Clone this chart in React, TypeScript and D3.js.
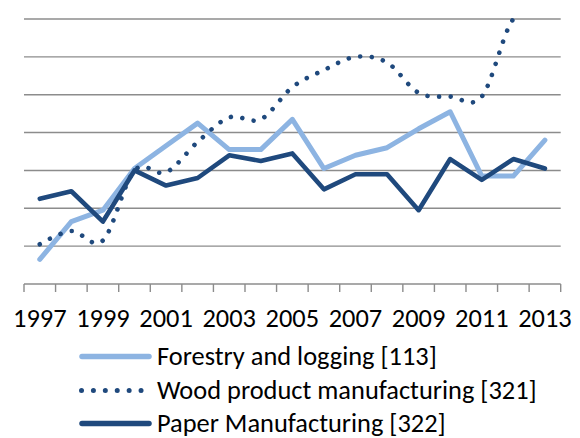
import React from "react";
import * as d3 from "d3";

const years = d3.range(1997, 2014).map(String);
const forestry = [13, 33, 39, 61, 73, 85, 71, 71, 87, 61, 68, 72, 82, 91, 57, 57, 76];
const wood = [21, 28, 23, 60, 59, 75, 88, 87, 104, 113, 120, 117, 101, 99, 99, 140, 142];
const paper = [45, 49, 33, 60, 52, 56, 68, 65, 69, 50, 58, 58, 39, 66, 55, 66, 61];
const gridTicks = [20, 40, 60, 80, 100, 120, 140];
const legendLabels = [
  "Forestry and logging [113]",
  "Wood product manufacturing [321]",
  "Paper Manufacturing [322]",
];

const LIGHT = "#8DB4E2";
const DARK = "#1F497D";
const GRID = "#8c8c8c";
const FONT = "Carlito, Calibri, 'Open Sans', sans-serif";
const FS = 26.4;

export default function App() {
  const W = 580, H = 438;
  const left = 24, right = 560.7, top = 19, bottom = 284;
  const x = d3.scaleBand<string>().domain(years).range([left, right]).padding(0);
  const y = d3.scaleLinear().domain([0, 140]).range([bottom, top]);
  const cx = (i: number) => (x(years[i]) as number) + x.bandwidth() / 2;

  const straight = d3.line<number>().x((_, i) => cx(i)).y((d) => y(d));
  const smooth = d3
    .line<number>()
    .x((_, i) => cx(i))
    .y((d) => y(d))
    .curve(d3.curveCardinal.tension(0));

  const tickXs = years.map((yr) => x(yr) as number).concat([right]);

  return (
    <svg width={W} height={H} style={{ position: "absolute", left: 0, top: 0, background: "#fff" }}>
      <defs>
        <clipPath id="plotClip">
          <rect x={left} y={top - 1} width={right - left} height={bottom - top + 10} />
        </clipPath>
      </defs>
      {gridTicks.map((t) => (
        <line key={t} x1={left} x2={right} y1={y(t)} y2={y(t)} stroke={GRID} strokeWidth={1.4} />
      ))}
      <line x1={left} x2={right} y1={bottom} y2={bottom} stroke={GRID} strokeWidth={1.4} />
      {tickXs.map((tx, i) => (
        <line key={i} x1={tx} x2={tx} y1={bottom} y2={bottom + 8} stroke={GRID} strokeWidth={1.4} />
      ))}
      {years.map((yr, i) =>
        i % 2 === 0 ? (
          <text key={yr} x={cx(i)} y={326.5} textAnchor="middle" fontFamily={FONT} fontSize={FS} fill="#000">
            {yr}
          </text>
        ) : null
      )}
      <g clipPath="url(#plotClip)">
        <path d={straight(forestry) || ""} fill="none" stroke={LIGHT} strokeWidth={5} strokeLinejoin="round" strokeLinecap="round" />
        <path
          d={smooth(wood) || ""}
          fill="none"
          stroke={DARK}
          strokeWidth={4.6}
          strokeLinecap="round"
          strokeDasharray="0.01 11.6"
        />
        <path d={straight(paper) || ""} fill="none" stroke={DARK} strokeWidth={4.6} strokeLinejoin="round" strokeLinecap="round" />
      </g>
      {legendLabels.map((lab, i) => {
        const baseY = [365, 399, 432][i];
        const ly = baseY - 8.5;
        return (
          <g key={lab}>
            {i === 1 ? (
              <line x1={81.5} x2={142} y1={ly} y2={ly} stroke={DARK} strokeWidth={5} strokeLinecap="round" strokeDasharray="0.01 11.9" />
            ) : (
              <line x1={82} x2={149} y1={ly} y2={ly} stroke={i === 0 ? LIGHT : DARK} strokeWidth={5.5} strokeLinecap="round" />
            )}
            <text x={157} y={baseY} fontFamily={FONT} fontSize={FS} fill="#000">
              {lab}
            </text>
          </g>
        );
      })}
    </svg>
  );
}
